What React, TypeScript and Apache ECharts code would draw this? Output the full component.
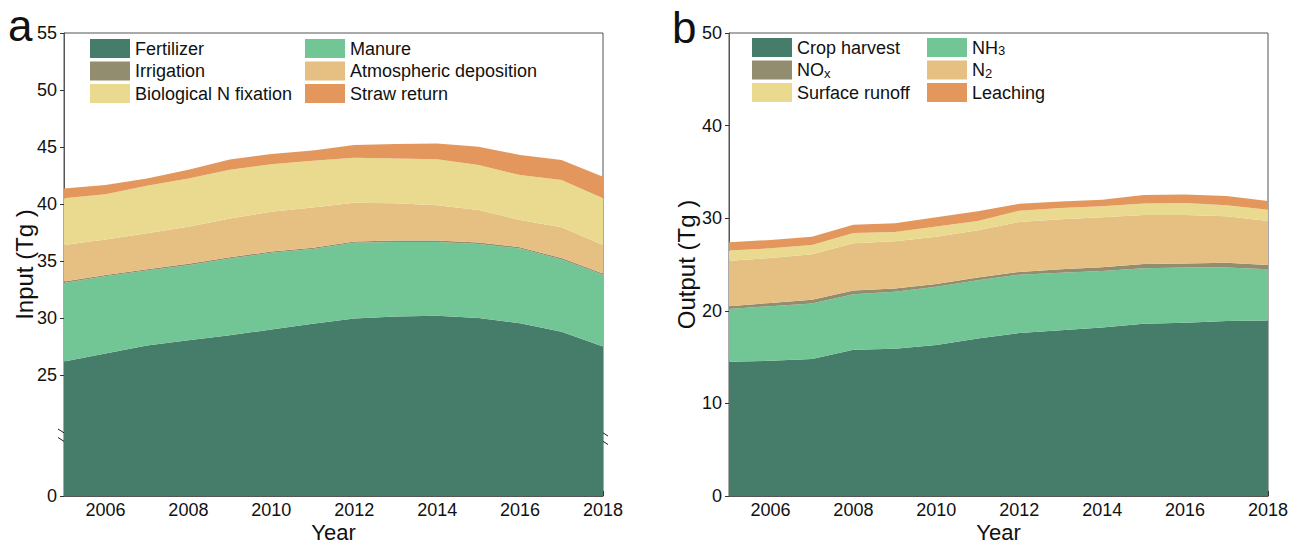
import React, { useEffect, useRef } from "react";
import * as echarts from "echarts";

// Years on both panels
const years = ["2005", "2006", "2007", "2008", "2009", "2010", "2011", "2012", "2013", "2014", "2015", "2016", "2017", "2018"];

// Panel a: nitrogen inputs (Tg)
const fertilizer = [26.2, 26.9, 27.6, 28.05, 28.5, 29.0, 29.5, 29.97, 30.15, 30.2, 30.0, 29.55, 28.8, 27.5];
const manure = [6.88, 6.77, 6.57, 6.59, 6.72, 6.72, 6.55, 6.63, 6.53, 6.48, 6.5, 6.55, 6.34, 6.3];
const irrigation = [0.12, 0.12, 0.12, 0.12, 0.12, 0.12, 0.12, 0.12, 0.12, 0.12, 0.12, 0.12, 0.12, 0.12];
const atmDeposition = [3.2, 3.11, 3.14, 3.24, 3.4, 3.49, 3.53, 3.4, 3.26, 3.1, 2.85, 2.38, 2.7, 2.48];
const bioFixation = [4.1, 3.95, 4.17, 4.25, 4.26, 4.17, 4.1, 3.94, 3.94, 4.02, 3.95, 3.94, 4.14, 4.1];
const strawReturn = [0.87, 0.82, 0.65, 0.75, 0.9, 0.9, 0.9, 1.12, 1.26, 1.38, 1.61, 1.76, 1.76, 1.9];

// Panel b: nitrogen outputs (Tg)
const cropHarvest = [14.5, 14.6, 14.8, 15.8, 15.9, 16.3, 17.0, 17.6, 17.9, 18.2, 18.6, 18.7, 18.9, 18.95];
const nh3 = [5.7, 5.9, 6.0, 6.0, 6.15, 6.3, 6.3, 6.3, 6.2, 6.1, 6.0, 5.97, 5.77, 5.55];
const nox = [0.3, 0.35, 0.4, 0.4, 0.35, 0.3, 0.3, 0.3, 0.4, 0.4, 0.45, 0.43, 0.53, 0.45];
const n2 = [4.9, 4.85, 4.9, 5.1, 5.1, 5.1, 5.1, 5.4, 5.4, 5.4, 5.3, 5.25, 5.0, 4.75];
const surfaceRunoff = [1.1, 1.05, 1.0, 1.1, 1.0, 1.1, 1.0, 1.2, 1.2, 1.2, 1.25, 1.3, 1.2, 1.2];
const leaching = [0.9, 0.9, 0.9, 0.9, 0.95, 1.0, 1.05, 0.75, 0.7, 0.7, 0.9, 0.9, 1.0, 0.96];

// Tick labels
const inputTicks = [25, 30, 35, 40, 45, 50, 55];
const outputTicks = [0, 10, 20, 30, 40, 50];

const COLORS = ["#467c6a", "#72c594", "#928d6e", "#e6c083", "#eada8f", "#e4975d"];
const FONT = "'Liberation Sans', Arial, Helvetica, sans-serif";

// Lower bound of the broken input axis; the part below 25 is compressed
const INPUT_AXIS_BOTTOM = 14.4;

const App: React.FC = () => {
  const ref = useRef<HTMLDivElement>(null);

  useEffect(() => {
    if (!ref.current) return;
    const chart = echarts.init(ref.current, null, { renderer: "svg" });

    const axisLineStyle = { color: "#555", width: 1 };

    const mkSeries = (name: string, data: number[], color: string, idx: number, stack: string) => ({
      name,
      type: "line",
      stack,
      xAxisIndex: idx,
      yAxisIndex: idx,
      data,
      symbol: "none",
      smooth: false,
      lineStyle: { width: 0 },
      itemStyle: { color },
      areaStyle: { color, opacity: 1 },
      emphasis: { disabled: true },
    });

    const xAxisBase = (gridIndex: number) => ({
      type: "category",
      gridIndex,
      data: years,
      boundaryGap: false,
      name: "Year",
      nameLocation: "middle",
      nameGap: 25,
      nameMoveOverlap: false,
      nameTextStyle: { fontSize: 22, color: "#111", fontFamily: FONT },
      axisLine: { lineStyle: axisLineStyle },
      axisTick: {
        inside: true,
        length: 5,
        alignWithLabel: true,
        interval: (i: number) => i % 2 === 1,
        lineStyle: { color: "#333" },
      },
      axisLabel: {
        interval: (i: number) => i % 2 === 1,
        fontSize: 18,
        color: "#111",
        fontFamily: FONT,
        margin: 5,
      },
      splitLine: { show: false },
    });

    const legendText = {
      fontSize: 18,
      color: "#111",
      fontFamily: FONT,
      rich: {
        m: { fontSize: 18, fontFamily: FONT, color: "#111" },
        s: { fontSize: 13, fontFamily: FONT, color: "#111", verticalAlign: "bottom", padding: [6, 0, 0, 0] },
      },
    };
    const subFormatter = (name: string) => {
      if (name === "NH3") return "{m|NH}{s|3}";
      if (name === "NOx") return "{m|NO}{s|x}";
      if (name === "N2") return "{m|N}{s|2}";
      return name;
    };
    const legendBase = {
      orient: "vertical",
      padding: 0,
      itemWidth: 40,
      itemHeight: 19,
      itemGap: 3.5,
      icon: "rect",
      selectedMode: false,
      textStyle: legendText,
      formatter: subFormatter,
    };

    const breakMarks = (x: number) => [
      { type: "line", shape: { x1: x - 6, y1: 429, x2: x + 5, y2: 436 }, style: { stroke: "#222", lineWidth: 1 } },
      { type: "line", shape: { x1: x - 6, y1: 437.5, x2: x + 5, y2: 444.5 }, style: { stroke: "#222", lineWidth: 1 } },
    ];

    const panelLetter = (text: string, x: number, y: number) => ({
      type: "text",
      x,
      y,
      style: {
        text,
        fill: "#111",
        font: `44px ${FONT}`,
        verticalAlign: "top",
        align: "left",
      },
    });

    const gridBase = {
      top: 33,
      width: 539,
      height: 463,
      show: true,
      borderColor: "#555",
      borderWidth: 1,
      backgroundColor: "transparent",
      containLabel: false,
      outerBoundsMode: "none",
    };

    chart.setOption({
      animation: false,
      backgroundColor: "#fff",
      grid: [
        { ...gridBase, left: 64 },
        { ...gridBase, left: 729 },
      ],
      legend: [
        { ...legendBase, left: 90, top: 39, data: ["Fertilizer", "Irrigation", "Biological N fixation"] },
        { ...legendBase, left: 305, top: 39, data: ["Manure", "Atmospheric deposition", "Straw return"] },
        { ...legendBase, left: 752, top: 38, data: ["Crop harvest", "NOx", "Surface runoff"] },
        { ...legendBase, left: 927, top: 38, data: ["NH3", "N2", "Leaching"] },
      ],
      xAxis: [xAxisBase(0), xAxisBase(1)],
      yAxis: [
        {
          type: "value",
          gridIndex: 0,
          min: INPUT_AXIS_BOTTOM,
          max: 55,
          name: "Input (Tg )",
          nameLocation: "middle",
          nameGap: 28,
          nameMoveOverlap: false,
          nameTextStyle: { fontSize: 24, color: "#111", fontFamily: FONT },
          axisLine: { show: true, lineStyle: axisLineStyle },
          axisTick: { show: true, length: 4, customValues: [INPUT_AXIS_BOTTOM, ...inputTicks], lineStyle: { color: "#333" } },
          axisLabel: {
            customValues: [INPUT_AXIS_BOTTOM, ...inputTicks],
            formatter: (v: number) => (v < 20 ? "0" : String(v)),
            fontSize: 18,
            color: "#111",
            fontFamily: FONT,
            margin: 7,
          },
          splitLine: { show: false },
        },
        {
          type: "value",
          gridIndex: 1,
          min: 0,
          max: 50,
          interval: 10,
          name: "Output (Tg )",
          nameLocation: "middle",
          nameGap: 31,
          nameMoveOverlap: false,
          nameTextStyle: { fontSize: 24, color: "#111", fontFamily: FONT },
          axisLine: { show: true, lineStyle: axisLineStyle },
          axisTick: { show: true, length: 4, customValues: outputTicks, lineStyle: { color: "#333" } },
          axisLabel: {
            customValues: outputTicks,
            fontSize: 18,
            color: "#111",
            fontFamily: FONT,
            margin: 7,
          },
          splitLine: { show: false },
        },
      ],
      series: [
        mkSeries("Fertilizer", fertilizer, COLORS[0], 0, "in"),
        mkSeries("Manure", manure, COLORS[1], 0, "in"),
        mkSeries("Irrigation", irrigation, COLORS[2], 0, "in"),
        mkSeries("Atmospheric deposition", atmDeposition, COLORS[3], 0, "in"),
        mkSeries("Biological N fixation", bioFixation, COLORS[4], 0, "in"),
        mkSeries("Straw return", strawReturn, COLORS[5], 0, "in"),
        mkSeries("Crop harvest", cropHarvest, COLORS[0], 1, "out"),
        mkSeries("NH3", nh3, COLORS[1], 1, "out"),
        mkSeries("NOx", nox, COLORS[2], 1, "out"),
        mkSeries("N2", n2, COLORS[3], 1, "out"),
        mkSeries("Surface runoff", surfaceRunoff, COLORS[4], 1, "out"),
        mkSeries("Leaching", leaching, COLORS[5], 1, "out"),
      ],
      graphic: [
        ...breakMarks(64),
        ...breakMarks(603),
        panelLetter("a", 8, 3),
        panelLetter("b", 672, 5),
      ],
    });

    return () => chart.dispose();
  }, []);

  return (
    <div
      ref={ref}
      style={{ position: "absolute", left: 0, top: 0, width: 1296, height: 544 }}
    />
  );
};

export default App;
